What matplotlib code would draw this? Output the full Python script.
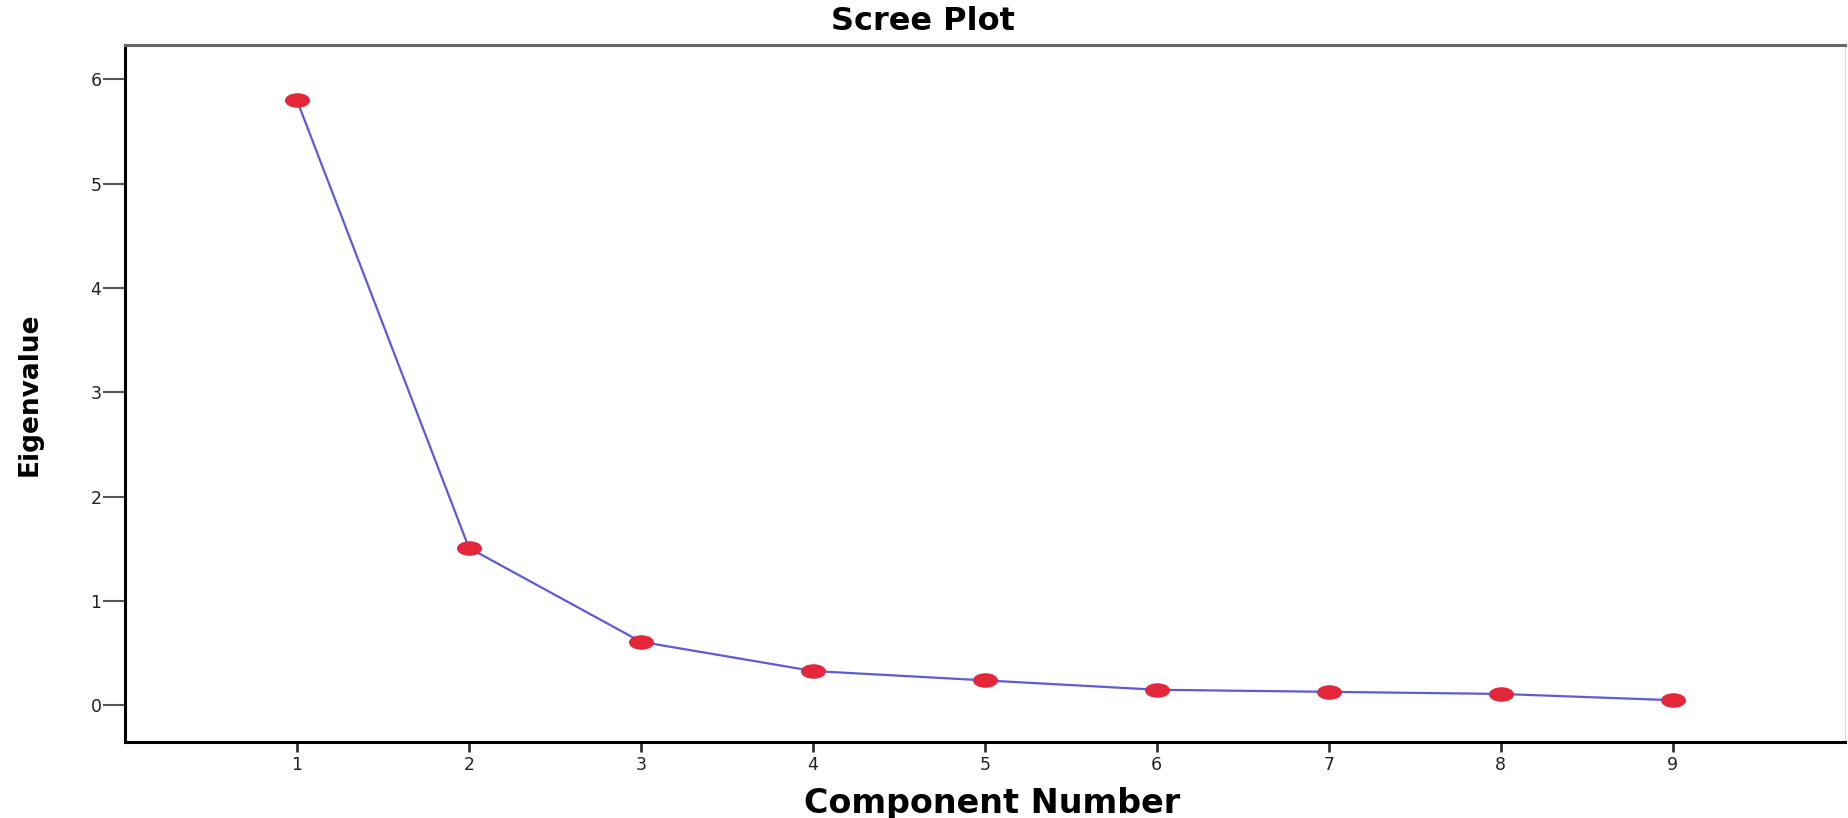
import matplotlib
matplotlib.use("Agg")
import matplotlib.pyplot as plt
from matplotlib.path import Path
from matplotlib.transforms import Affine2D

# data
components = [1, 2, 3, 4, 5, 6, 7, 8, 9]
eigenvalues = [5.80, 1.51, 0.61, 0.33, 0.24, 0.15, 0.13, 0.11, 0.05]
y_ticks = [0, 1, 2, 3, 4, 5, 6]

# flattened dot like the SPSS output
ellipse = Path.unit_circle().transformed(Affine2D().scale(1.8, 1.0))

fig = plt.figure(figsize=(18.49, 8.18), dpi=100)
ax = fig.add_axes([0.0676, 0.093, 0.930, 0.852])

ax.plot(components, eigenvalues, color='#5c5cd6', lw=1.6, zorder=2)
ax.plot(components, eigenvalues, ls='none', marker=ellipse, ms=17,
        color='#e32639', mec='#e32639', zorder=3)

ax.set_xlim(0, 10)
ax.set_ylim(-0.35, 6.33)
ax.set_xticks(components)
ax.set_yticks(y_ticks)

ax.tick_params(axis='y', length=16, width=1.5, color='#555555', pad=1,
               labelsize=12.5, labelcolor='#222222')
ax.tick_params(axis='x', length=7, width=2, color='#333333', pad=3,
               labelsize=12.5, labelcolor='#222222')

ax.spines['left'].set_linewidth(2.2)
ax.spines['left'].set_color('black')
ax.spines['bottom'].set_linewidth(2.2)
ax.spines['bottom'].set_color('black')
ax.spines['top'].set_linewidth(2.2)
ax.spines['top'].set_color('#666666')
ax.spines['right'].set_linewidth(1)
ax.spines['right'].set_color('#dddddd')

fig.text(923 / 1849, 1 - 21 / 818, 'Scree Plot', ha='center', va='center',
         fontsize=23, fontweight='heavy', family='DejaVu Sans')
fig.text(992 / 1849, 1 - 804 / 818, 'Component Number', ha='center',
         va='center', fontsize=24, fontweight='heavy', family='DejaVu Sans')
fig.text(30 / 1849, 1 - 394 / 818, 'Eigenvalue', ha='center', va='center',
         rotation=90, fontsize=19, fontweight='heavy', family='DejaVu Sans')

fig.savefig('out.png', dpi=100)
